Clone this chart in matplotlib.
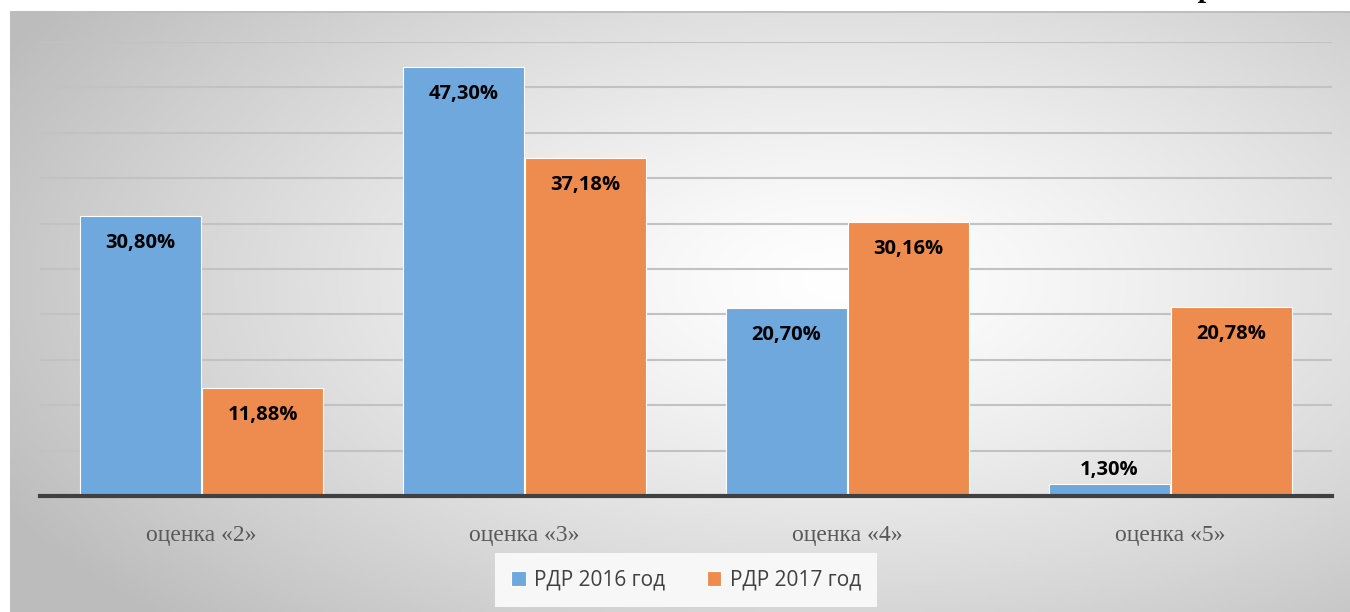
from matplotlib import pyplot as plt
import numpy as np

categories = ["оценка «2»", "оценка «3»", "оценка «4»", "оценка «5»"]
series_names = ["РДР 2016 год", "РДР 2017 год"]
values_2016 = [30.80, 47.30, 20.70, 1.30]
values_2017 = [11.88, 37.18, 30.16, 20.78]

W, H = 1350, 612
fig = plt.figure(figsize=(W / 100, H / 100), dpi=100)
fig.patch.set_facecolor("white")

# the cut-off caption above the chart
fig.text(1207 / W, 1 + 4 / H, "р", family="Liberation Serif", style="italic",
         fontweight="bold", fontsize=22, ha="center", va="baseline", color="black")

# radial gradient background of the chart area
bg = fig.add_axes([10 / W, 0, 1 - 10 / W, 1 - 11 / H], zorder=-2)
gx, gy = np.meshgrid(np.linspace(0, 1, 400), np.linspace(0, 1, 200))
dist = np.sqrt(((gx - 0.62) / 0.75) ** 2 + ((gy - 0.45) / 0.85) ** 2)
shade = np.clip(1.0 - 0.28 * dist ** 1.3, 0.74, 1.0)
bg.imshow(np.dstack([shade] * 3), aspect="auto", extent=(0, 1, 0, 1), origin="upper")
bg.axhline(1, color="#bdbdbd", lw=2)
bg.set_xlim(0, 1)
bg.set_ylim(0, 1)
bg.axis("off")

ax = fig.add_axes([40 / W, (H - 496) / H, 1292 / W, (496 - 42) / H])
ax.patch.set_alpha(0)
x = np.arange(len(categories))
bw = 0.372
b1 = ax.bar(x - bw / 2 - 0.003, values_2016, bw, color="#6fa8dc", edgecolor="white",
            linewidth=0.8, label=series_names[0], zorder=3)
b2 = ax.bar(x + bw / 2 + 0.003, values_2017, bw, color="#ee8c4f", edgecolor="white",
            linewidth=0.8, label=series_names[1], zorder=3)

for bars, vals in ((b1, values_2016), (b2, values_2017)):
    for rect, v in zip(bars, vals):
        txt = f"{v:.2f}".replace(".", ",") + "%"
        cx = rect.get_x() + rect.get_width() / 2
        # small bars get the label above, others inside near the top
        dy = 14 if v < 5 else -27
        ax.annotate(txt, (cx, v), xytext=(0, dy), textcoords="offset pixels",
                    ha="center", va="center", fontsize=14.5, fontweight="bold",
                    family="Open Sans", color="black", zorder=4)

ax.set_xlim(-0.5, 3.5)
ax.set_ylim(0, 50)
ax.set_yticks(np.arange(5, 51, 5))
ax.yaxis.grid(True, color="#c2c2c2", lw=1.5)
ax.set_axisbelow(True)
ax.tick_params(axis="y", length=0, labelleft=False)
ax.set_xticks(x)
ax.set_xticklabels(categories, family="Liberation Serif", fontsize=17, color="#595959")
ax.tick_params(axis="x", length=0, pad=21)
for s in ("top", "right", "left"):
    ax.spines[s].set_visible(False)
ax.spines["bottom"].set_color("#404040")
ax.spines["bottom"].set_linewidth(3)
ax.spines["bottom"].set_zorder(5)

leg = fig.legend(handles=[b1, b2], loc="center", bbox_to_anchor=(686 / W, 1 - 580 / H),
                 ncol=2, frameon=True, fancybox=False, facecolor="#f7f7f7",
                 edgecolor="none", framealpha=1, handlelength=0.7, handleheight=0.7,
                 handletextpad=0.4, columnspacing=2.0, borderpad=0.8,
                 prop={"family": "Open Sans", "size": 15})
for t in leg.get_texts():
    t.set_color("#404040")

fig.savefig("out.png", dpi=100)
